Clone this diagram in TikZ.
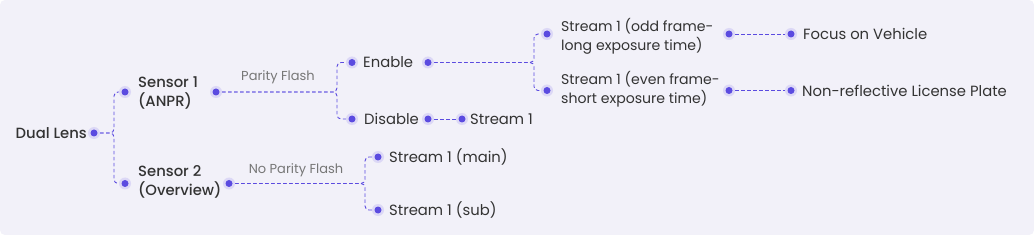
\documentclass[tikz,border=0pt]{standalone}
\usepackage{fontspec}
\setmainfont{Poppins}[BoldFont={Poppins Medium}]
\begin{document}
\begin{tikzpicture}[x=1pt,y=-1pt,
  link/.style={draw=linec,dash pattern=on 3.5pt off 2.5pt,line width=0.9pt,rounded corners=4pt},
  dot/.style={circle,fill=dotc,inner sep=0pt,minimum size=7pt},
  halo/.style={circle,fill=haloc,inner sep=0pt,minimum size=12pt},
  lbl/.style={inner sep=0pt,anchor=west,text=textc,font=\fontsize{14.8}{19}\selectfont,align=left},
  narrow/.style={lbl,font=\fontsize{14.1}{19}\selectfont},
  strong/.style={lbl,font=\fontsize{14.8}{19}\selectfont\bfseries},
  elbl/.style={inner sep=0pt,text=graytext,font=\fontsize{13}{15}\selectfont}]
\definecolor{bgc}{HTML}{F2F1F9}
\definecolor{linec}{HTML}{5B4BE0}
\definecolor{dotc}{HTML}{5B4BE0}
\definecolor{haloc}{HTML}{DCD8F6}
\definecolor{textc}{HTML}{333333}
\definecolor{graytext}{HTML}{777777}
\useasboundingbox (0,0) rectangle (1034,235);
\fill[white] (0,0) rectangle (1034,235);
\fill[bgc,rounded corners=5pt] (0,0) rectangle (1034,235);
% dot positions
\coordinate (d0) at (94,133);
\coordinate (s1i) at (125,92);  \coordinate (s1o) at (216,92);
\coordinate (s2i) at (125,183.5); \coordinate (s2o) at (229,183.5);
\coordinate (eni) at (352,62.5); \coordinate (eno) at (428,62.5);
\coordinate (disi) at (352,119); \coordinate (diso) at (428,119);
\coordinate (sti) at (462,119);
\coordinate (oddi) at (547,34); \coordinate (oddo) at (729,34);
\coordinate (foci) at (791,34);
\coordinate (eveni) at (547,90.5); \coordinate (eveno) at (729,90.5);
\coordinate (nri) at (791,90.5);
\coordinate (maini) at (378,157); \coordinate (subi) at (378,210);
% connectors
\draw[link] (d0) -- (114,133) |- (s1i);
\draw[link] (d0) -- (114,133) |- (s2i);
\draw[link] (s1o) -- (337,92) |- (eni);
\draw[link] (s1o) -- (337,92) |- (disi);
\draw[link] (diso) -- (sti);
\draw[link] (eno) -- (534,62.5) |- (oddi);
\draw[link] (eno) -- (534,62.5) |- (eveni);
\draw[link] (oddo) -- (foci);
\draw[link] (eveno) -- (nri);
\draw[link] (s2o) -- (365,183.5) |- (maini);
\draw[link] (s2o) -- (365,183.5) |- (subi);
% dots
\foreach \p in {d0,s1i,s1o,s2i,s2o,eni,eno,disi,diso,sti,oddi,oddo,foci,eveni,eveno,nri,maini,subi}{
  \node[halo] (halo-\p) at (\p) {};
  \node[dot] (dot-\p) at (\p) {};}
% texts
\node[strong,anchor=east] (dual) at (87,133) {Dual Lens};
\node[strong] (sensor1) at (138,93) {Sensor 1\\(ANPR)};
\node[strong] (sensor2) at (138,182) {Sensor 2\\(Overview)};
\node[lbl] (enable) at (363,62) {Enable};
\node[lbl] (disable) at (364,119) {Disable};
\node[lbl] (stream) at (470,119) {Stream 1};
\node[narrow] (odd) at (561,36.5) {Stream 1 (odd frame-\\long exposure time)};
\node[narrow] (even) at (561,89.5) {Stream 1 (even frame-\\short exposure time)};
\node[lbl] (focus) at (803,34) {Focus on Vehicle};
\node[lbl] (plate) at (802,91) {Non-reflective License Plate};
\node[lbl] (main) at (389,157) {Stream 1 (main)};
\node[lbl] (sub) at (389,210) {Stream 1 (sub)};
\node[elbl] (pf) at (278,77) {Parity Flash};
\node[elbl] (npf) at (296,170) {No Parity Flash};
\end{tikzpicture}
\end{document}
